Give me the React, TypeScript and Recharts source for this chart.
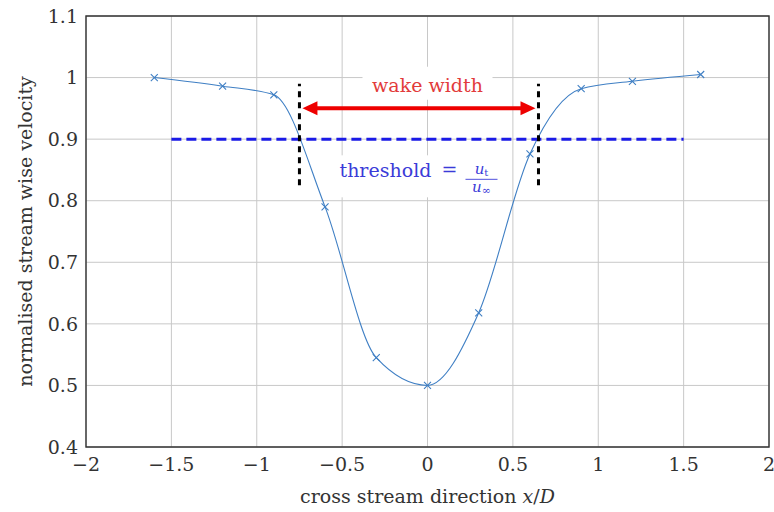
import {
  LineChart,
  Line,
  XAxis,
  YAxis,
  CartesianGrid,
  ReferenceLine,
  ReferenceArea,
  ReferenceDot,
} from "recharts";

// measured profile across the wake
const positions = [-1.6, -1.2, -0.9, -0.6, -0.3, 0, 0.3, 0.6, 0.9, 1.2, 1.6];
const velocity = [1.0, 0.986, 0.972, 0.79, 0.545, 0.5, 0.618, 0.876, 0.982, 0.994, 1.005];

const xTicks = [-2, -1.5, -1, -0.5, 0, 0.5, 1, 1.5, 2];
const yTicks = [0.4, 0.5, 0.6, 0.7, 0.8, 0.9, 1, 1.1];

// annotation values
const threshold = 0.9;
const thresholdSpan = [-1.5, 1.5];
const wakeEdges = [-0.75, 0.65];
const edgeSpan = [0.825, 0.99];
const arrowLevel = 0.95;
const wakeLabelPos = { x: 0, y: 0.977 };
const thresholdLabelPos = { x: 0, y: 0.838 };

const data = positions.map((x, i) => ({ x, v: velocity[i] }));

const FONT = "'DejaVu Serif', serif";
const TEXT = "#333";
const SERIES = "#3f7fc4";

const fmt = (v: number) => String(v).replace("-", "\u2212");

const Cross = (p: any) => {
  const { cx, cy, index } = p;
  if (cx == null || cy == null) return <g key={index} />;
  const s = 3.5;
  return (
    <path
      key={index}
      d={`M${cx - s},${cy - s}L${cx + s},${cy + s}M${cx - s},${cy + s}L${cx + s},${cy - s}`}
      stroke={SERIES}
      strokeWidth={1.1}
      fill="none"
    />
  );
};

const DoubleArrow = (p: any) => {
  const { x1, y1, x2, y2 } = p;
  const head = 15;
  const half = 7;
  const c = "#ee0000";
  return (
    <g>
      <line x1={x1 + head - 1} y1={y1} x2={x2 - head + 1} y2={y2} stroke={c} strokeWidth={4} />
      <polygon points={`${x1 + 3},${y1} ${x1 + 3 + head},${y1 - half} ${x1 + 3 + head},${y1 + half}`} fill={c} />
      <polygon points={`${x2 - 3},${y2} ${x2 - 3 - head},${y2 - half} ${x2 - 3 - head},${y2 + half}`} fill={c} />
    </g>
  );
};

const WakeLabel = (p: any) => {
  const { cx, cy } = p;
  return (
    <g>
      <rect x={cx - 65} y={cy - 25} width={130} height={33} fill="#fff" />
      <text x={cx} y={cy} textAnchor="middle" fontFamily={FONT} fontSize={19} fill="#e23b3b">
        wake width
      </text>
    </g>
  );
};

const ThresholdLabel = (p: any) => {
  const { cx, cy } = p;
  const c = "#3b3bd8";
  const fx = cx + 54;
  return (
    <g fontFamily={FONT} fill={c}>
      <rect x={cx - 93} y={cy - 22} width={167} height={42} fill="#fff" />
      <text x={cx - 88} y={cy} fontSize={19}>
        threshold
      </text>
      <text x={cx + 14} y={cy - 1} fontSize={19}>
        =
      </text>
      <text x={fx} y={cy - 3} textAnchor="middle" fontSize={15}>
        <tspan fontStyle="italic">u</tspan>
        <tspan fontSize={10} dy={2}>
          t
        </tspan>
      </text>
      <line x1={fx - 16} x2={fx + 16} y1={cy + 2} y2={cy + 2} stroke={c} strokeWidth={0.9} />
      <text x={fx} y={cy + 15} textAnchor="middle" fontSize={15}>
        <tspan fontStyle="italic">u</tspan>
        <tspan fontSize={11} dy={2}>
          {"\u221e"}
        </tspan>
      </text>
    </g>
  );
};

export default function App() {
  return (
    <div style={{ position: "absolute", left: 0, top: 0, background: "#fff" }}>
      <LineChart width={774} height={512} data={data} margin={{ top: 16, right: 5, bottom: 0, left: 0 }}>
        <CartesianGrid stroke="#c8c8c8" strokeWidth={1} />
        <XAxis
          dataKey="x"
          type="number"
          domain={[-2, 2]}
          ticks={xTicks}
          tickFormatter={fmt}
          height={65}
          axisLine={false}
          tickLine={false}
          tickSize={0}
          tickMargin={11}
          tick={{ fontFamily: FONT, fontSize: 19, fill: TEXT }}
          label={{
            content: (lp: any) => {
              const vb = lp.viewBox;
              return (
                <text x={vb.x + vb.width / 2} y={503} textAnchor="middle" fontFamily={FONT} fontSize={19} fill={TEXT}>
                  cross stream direction <tspan fontStyle="italic">x</tspan>/<tspan fontStyle="italic">D</tspan>
                </text>
              );
            },
          }}
        />
        <YAxis
          type="number"
          domain={[0.4, 1.1]}
          ticks={yTicks}
          tickFormatter={fmt}
          width={86}
          axisLine={false}
          tickLine={false}
          tickSize={0}
          tickMargin={8}
          tick={{ fontFamily: FONT, fontSize: 19, fill: TEXT }}
          label={{
            content: (lp: any) => {
              const vb = lp.viewBox;
              const cy = vb.y + vb.height / 2;
              return (
                <text
                  x={32}
                  y={cy}
                  transform={`rotate(-90, 32, ${cy})`}
                  textAnchor="middle"
                  fontFamily={FONT}
                  fontSize={19}
                  fill={TEXT}
                >
                  normalised stream wise velocity
                </text>
              );
            },
          }}
        />
        <ReferenceDot x={wakeLabelPos.x} y={wakeLabelPos.y} r={0} shape={WakeLabel} />
        <ReferenceDot x={thresholdLabelPos.x} y={thresholdLabelPos.y} r={0} shape={ThresholdLabel} />
        <Line
          dataKey="v"
          type="monotone"
          stroke={SERIES}
          strokeWidth={1.1}
          dot={Cross}
          activeDot={false}
          isAnimationActive={false}
        />
        <ReferenceLine
          segment={[
            { x: thresholdSpan[0], y: threshold },
            { x: thresholdSpan[1], y: threshold },
          ]}
          stroke="#1a1ae6"
          strokeWidth={3}
          strokeDasharray="10 5"
        />
        {wakeEdges.map((e) => (
          <ReferenceLine
            key={e}
            segment={[
              { x: e, y: edgeSpan[0] },
              { x: e, y: edgeSpan[1] },
            ]}
            stroke="#000"
            strokeWidth={3}
            strokeDasharray="6 5"
          />
        ))}
        <ReferenceLine
          segment={[
            { x: wakeEdges[0], y: arrowLevel },
            { x: wakeEdges[1], y: arrowLevel },
          ]}
          shape={DoubleArrow}
        />
        <ReferenceArea
          x1={-2}
          x2={2}
          y1={0.4}
          y2={1.1}
          fill="none"
          fillOpacity={0}
          stroke="#333"
          strokeWidth={1.4}
          ifOverflow="visible"
        />
      </LineChart>
    </div>
  );
}
